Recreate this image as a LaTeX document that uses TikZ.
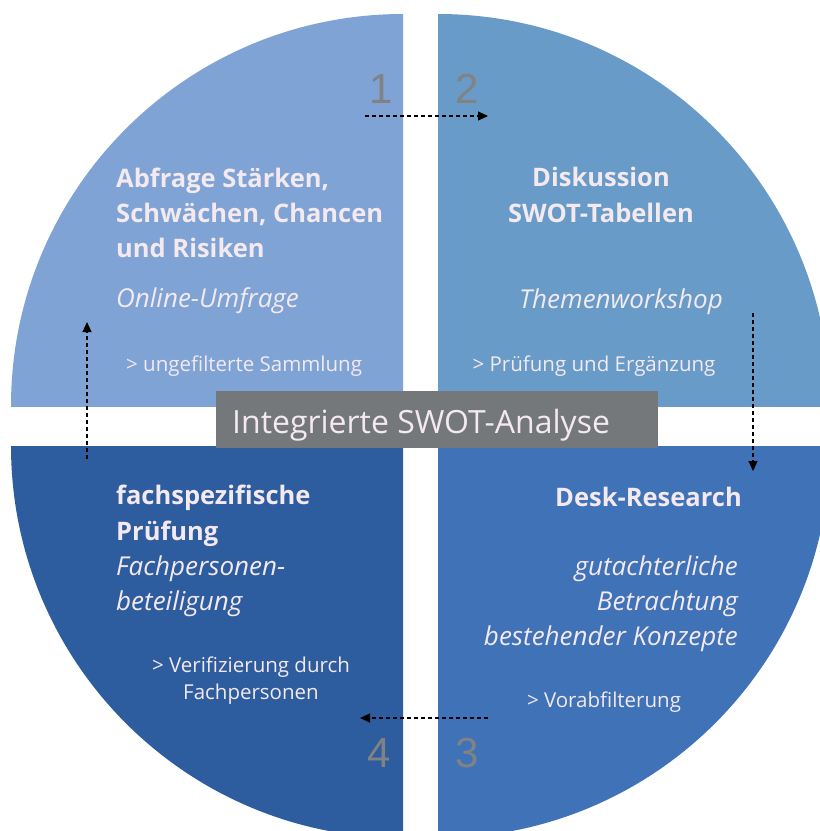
\documentclass[tikz,border=0pt]{standalone}
\usepackage{fontspec}
\setmainfont{Open Sans}
\newfontfamily\numfont{Liberation Sans}
\usetikzlibrary{arrows.meta}
\definecolor{qtl}{RGB}{127,163,212}
\definecolor{qtr}{RGB}{105,155,200}
\definecolor{qbl}{RGB}{45,93,158}
\definecolor{qbr}{RGB}{63,114,183}
\definecolor{boxgrey}{RGB}{117,120,122}
\definecolor{txt}{RGB}{243,233,238}
\definecolor{numgrey}{RGB}{128,130,132}
\tikzset{
  head/.style={text=txt, font=\fontsize{25.5}{34}\selectfont\bfseries, inner sep=0pt},
  sub/.style={text=txt, font=\fontsize{26}{35}\selectfont\itshape, inner sep=0pt},
  note/.style={text=txt, font=\fontsize{20.5}{28}\selectfont, inner sep=0pt},
  num/.style={text=numgrey, font=\numfont\fontsize{42}{42}\selectfont, inner sep=0pt, anchor=base},
  flow/.style={line width=1.1pt, dash pattern=on 4pt off 3pt, black, -{Triangle[length=10pt,width=9pt]}}
}
\begin{document}
\begin{tikzpicture}[x=1pt,y=-1pt]
\useasboundingbox (0,0) rectangle (820,831);
\fill[white] (0,0) rectangle (820,831);
% quadrants
\begin{scope}\clip (0,0) rectangle (403,406); \fill[qtl] (403,406) circle[radius=392pt]; \end{scope}
\begin{scope}\clip (438,0) rectangle (820,406); \fill[qtr] (438,406) circle[radius=392pt]; \end{scope}
\begin{scope}\clip (0,446) rectangle (403,831); \fill[qbl] (403,446) circle[radius=392pt]; \end{scope}
\begin{scope}\clip (438,446) rectangle (820,831); \fill[qbr] (438,446) circle[radius=392pt]; \end{scope}
% centre box
\node[fill=boxgrey, minimum width=442pt, minimum height=57pt, inner sep=0pt] (title) at (437,419.5) {};
\node[text=txt, font=\fontsize{32}{32}\selectfont, anchor=base west, inner sep=0pt] (titletext) at (232,433) {Integrierte SWOT-Analyse};
% numbers
\node[num] (n1) at (381,103) {1};
\node[num] (n2) at (467,103) {2};
\node[num] (n3) at (467,767) {3};
\node[num] (n4) at (379,767) {4};
% top-left
\node[head, anchor=base west] (tlh1) at (116,187) {Abfrage Stärken,};
\node[head, anchor=base west] (tlh2) at (116,222) {Schwächen, Chancen};
\node[head, anchor=base west] (tlh3) at (116,257) {und Risiken};
\node[sub, anchor=base west] (tls) at (116,307) {Online-Umfrage};
\node[note, anchor=base west] (tln) at (126,371) {> ungefilterte Sammlung};
% top-right
\node[head, anchor=base] (trh1) at (601,186) {Diskussion};
\node[head, anchor=base] (trh2) at (601,222) {SWOT-Tabellen};
\node[sub, anchor=base] (trs) at (621,308) {Themenworkshop};
\node[note, anchor=base] (trn) at (594,371) {> Prüfung und Ergänzung};
% bottom-left
\node[head, anchor=base west] (blh1) at (116,504) {fachspezifische};
\node[head, anchor=base west] (blh2) at (116,540) {Prüfung};
\node[sub, anchor=base west] (bls1) at (116,575) {Fachpersonen-};
\node[sub, anchor=base west] (bls2) at (116,610) {beteiligung};
\node[note, anchor=base] (bln1) at (251,672) {> Verifizierung durch};
\node[note, anchor=base] (bln2) at (251,699) {Fachpersonen};
% bottom-right
\node[head, anchor=base east] (brh) at (742,506) {Desk-Research};
\node[sub, anchor=base east] (brs1) at (738,575) {gutachterliche};
\node[sub, anchor=base east] (brs2) at (738,610) {Betrachtung};
\node[sub, anchor=base east] (brs3) at (738,645) {bestehender Konzepte};
\node[note, anchor=base] (brn) at (604,707) {> Vorabfilterung};
% connectors
\coordinate (a1s) at (365,116); \coordinate (a1e) at (488,116);
\coordinate (a2s) at (753,313); \coordinate (a2e) at (753,471);
\coordinate (a3s) at (488,718); \coordinate (a3e) at (360,718);
\coordinate (a4s) at (87,459); \coordinate (a4e) at (87,322);
\draw[flow] (a1s) -- (a1e);
\draw[flow] (a2s) -- (a2e);
\draw[flow] (a3s) -- (a3e);
\draw[flow] (a4s) -- (a4e);
\end{tikzpicture}
\end{document}
